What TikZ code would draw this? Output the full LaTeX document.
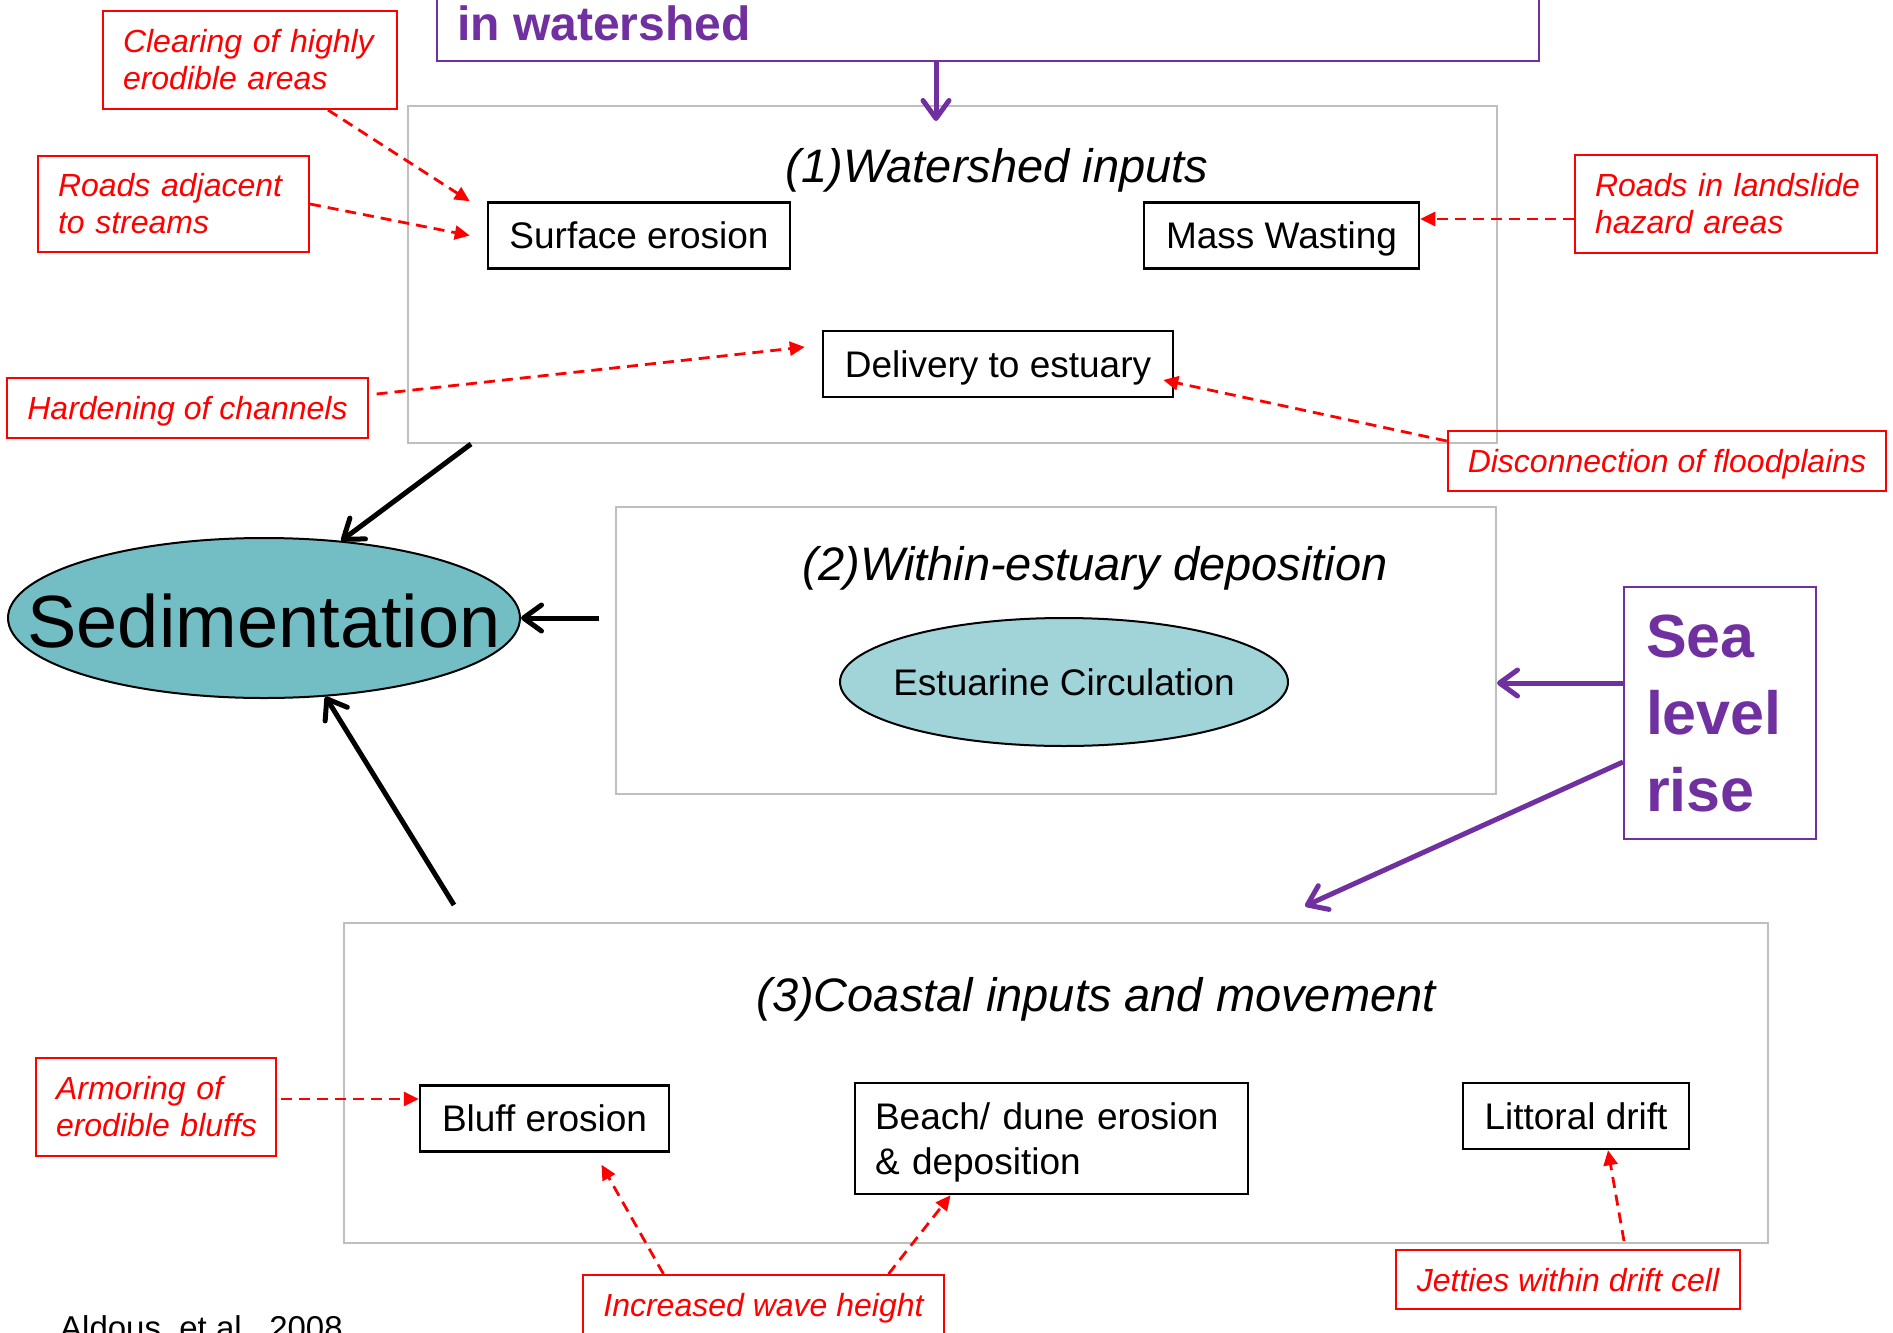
\documentclass[tikz,border=0pt]{standalone}
\usepackage{fontspec}
\setmainfont{Liberation Sans}
\usetikzlibrary{arrows.meta,shapes.geometric}
\definecolor{purp}{HTML}{7030A0}
\definecolor{grayline}{HTML}{BFBFBF}
\definecolor{sedfill}{HTML}{72BEC4}
\definecolor{estfill}{HTML}{A0D4D8}
\tikzset{grp/.style   = {draw=grayline, line width=2pt, inner sep=0pt},
         proc/.style  = {draw, line width=2.5pt, minimum height=66pt, inner sep=0pt, font=\fontsize{37}{45}\selectfont},
         proc1/.style = {proc, text height=26pt, text depth=0pt},
         cause/.style = {draw=red, line width=2pt, text=red, inner xsep=20pt, inner ysep=0pt, minimum height=60pt, align=left, font=\fontsize{32}{37}\selectfont\itshape},
         cause1/.style= {cause, text height=23pt, text depth=0pt},
         head/.style  = {inner sep=0pt, anchor=base, font=\fontsize{47}{56}\selectfont\itshape},
         oval/.style  = {ellipse, draw, line width=2pt, inner sep=0pt},
         ka/.style    = {line width=5pt, -{Straight Barb[length=18pt,width=26pt,round]}},
         pa/.style    = {purp, line width=5pt, -{Straight Barb[length=18pt,width=26pt,round]}},
         ra/.style    = {red, line width=2.8pt, dash pattern=on 11pt off 7pt, -{Triangle[length=15pt,width=14pt]}}}

\begin{document}
\begin{tikzpicture}[x=1pt, y=-1pt]
    \useasboundingbox (0,0) rectangle (1893,1333);
    \clip (0,0) rectangle (1893,1333);
    \node[grp, minimum width=1089pt, minimum height=337pt] (wsh) at (952.5,274.5) {};
    \node[grp, minimum width=880pt,  minimum height=287pt] (est) at (1056,650.5) {};
    \node[grp, minimum width=1424pt, minimum height=320pt] (cst) at (1056,1083) {};
    \node[draw=purp, line width=2pt, minimum width=1102pt, minimum height=200pt] (tb) at (988,-39) {};
    \node[anchor=base west, inner sep=0pt, text=purp, font=\fontsize{48}{56}\selectfont\bfseries] (tbt) at (457,40) {in watershed};
    \node[head] (h1) at (997,182) {(1)Watershed inputs};
    \node[head] (h2) at (1095,580) {(2)Within-estuary deposition};
    \node[head] (h3) at (1096,1011) {(3)Coastal inputs and movement};
    \node[proc1, minimum width=302pt] (se) at (639,235.5) {Surface erosion};
    \node[proc1, minimum width=275pt] (mw) at (1281.5,235.5) {Mass Wasting};
    \node[proc1, minimum width=350pt] (dl) at (998,364) {Delivery to estuary};
    \node[proc1, minimum width=249pt] (bl) at (544.5,1118.5) {Bluff erosion};
    \node[proc, inner xsep=20pt, text width=353pt, text height=35pt, align=left, minimum height=111pt] (bd) at (1051.5,1138.5) {\mbox{Beach/ dune erosion}\\\mbox{\& deposition}};
    \node[proc1, minimum width=226pt] (ld) at (1576,1116) {Littoral drift};
    \node[cause, text width=254pt, minimum height=98pt] (clr) at (250,60) {\mbox{Clearing of highly}\\\mbox{erodible areas}};
    \node[cause, text width=231pt, minimum height=96pt] (rad) at (173.5,204) {\mbox{Roads adjacent}\\\mbox{to streams}};
    \node[cause, text width=262pt, minimum height=98pt] (rls) at (1726,204) {\mbox{Roads in landslide}\\\mbox{hazard areas}};
    \node[cause1, minimum width=359pt] (hrd) at (187.5,408) {Hardening of channels};
    \node[cause1, minimum width=438pt] (dsc) at (1667,461) {Disconnection of floodplains};
    \node[cause, text width=200pt, minimum height=98pt] (arm) at (156,1107) {\mbox{Armoring of}\\\mbox{erodible bluffs}};
    \node[cause1, minimum width=359pt] (inc) at (763.5,1305) {Increased wave height};
    \node[cause1, minimum width=344pt, minimum height=59pt] (jet) at (1568,1279.5) {Jetties within drift cell};
    \node[oval, fill=sedfill, minimum width=512pt, minimum height=160pt,
          label={[font=\fontsize{74}{80}\selectfont, yshift=-3pt]center:Sedimentation}] (sed) at (264,618) {};
    \node[oval, fill=estfill, minimum width=448pt, minimum height=128pt,
          label={[font=\fontsize{37}{44}\selectfont]center:Estuarine Circulation}] (ec) at (1064,682) {};
    \node[draw=purp, line width=2pt, text=purp, inner xsep=22pt, inner ysep=0pt, text width=148pt, minimum height=252pt,
          align=left, font=\fontsize{61}{77}\selectfont\bfseries] (slr) at (1720,713) {Sea\\level\\rise};
    \node[anchor=base west, inner sep=0pt, font=\fontsize{33}{40}\selectfont] (src) at (60,1339) {Aldous, et al., 2008};
    \coordinate (wshin) at (936,121);
    \coordinate (cstin) at (1305,906);
    \coordinate (k1) at ([xshift=-16pt]est.west);
    \coordinate (slra) at ([yshift=30pt]slr.west);
    \coordinate (rl1) at ([yshift=-15pt]rls.west);
    \coordinate (ar1) at ([shift={(4pt,8pt)}]arm.east);
    \draw[pa] (tb.south -| wshin) -- (wshin);
    \draw[pa] (slra) -- (slra -| est.east);
    \draw[pa] ([yshift=-49pt]slr.west) -- (cstin);
    \draw[ka] ([xshift=64pt]wsh.south west) -- (sed.45);
    \draw[ka] (k1 |- sed.east) -- (sed.east);
    \draw[ka] ([shift={(111pt,17pt)}]cst.north west) -- (sed.-52);
    \draw[ra] ([xshift=-70pt]clr.south east) -- ([xshift=-17pt]se.north west);
    \draw[ra] (rad.east) -- ([xshift=-17pt]se.west);
    \draw[ra] (rl1) -- (rl1 -| mw.east);
    \draw[ra] ([shift={(8pt,14pt)}]hrd.east) -- ([shift={(-17pt,17pt)}]dl.west);
    \draw[ra] ([yshift=-11pt]dsc.north west) -- ([shift={(-11pt,-16pt)}]dl.east);
    \draw[ra] (ar1) -- (ar1 -| bl.west);
    \draw[ra] ([xshift=-100pt]inc.north) -- ([shift={(57pt,-12pt)}]bl.south);
    \draw[ra] ([xshift=125pt]inc.north) -- ([xshift=-101pt]bd.south);
    \draw[ra] ([shift={(56pt,8pt)}]jet.north) -- ([xshift=32pt]ld.south);
\end{tikzpicture}
\end{document}
